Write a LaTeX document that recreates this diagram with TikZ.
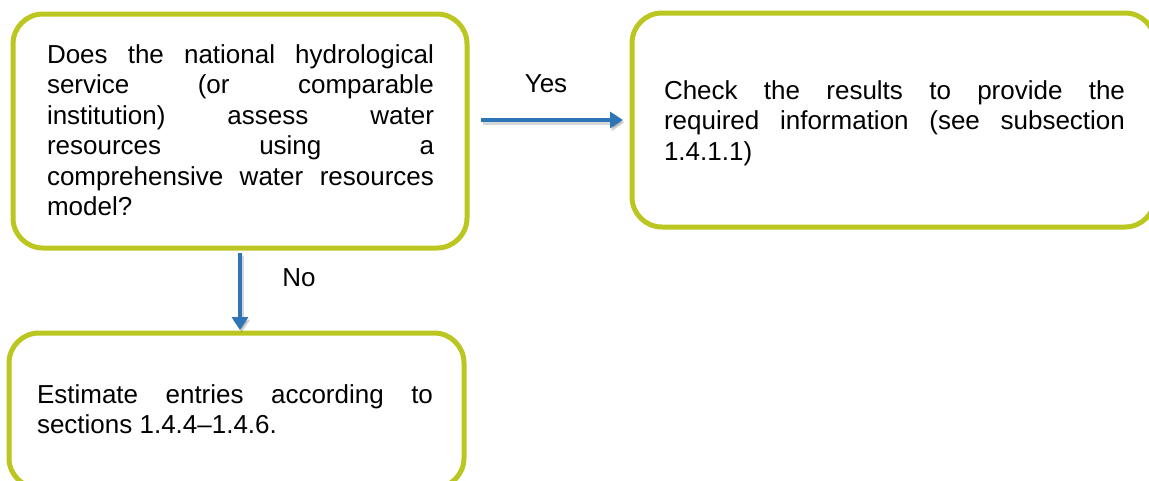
\documentclass[tikz,border=0pt]{standalone}
\usepackage{fontspec}
\setmainfont{Liberation Sans}
\usetikzlibrary{arrows.meta}
\definecolor{boxline}{RGB}{187,199,32}
\definecolor{flowblue}{RGB}{46,117,182}
\hbadness=10000
\begin{document}
\begin{tikzpicture}[x=1pt,y=-1pt,
  qbox/.style={rectangle, draw=boxline, line width=5pt, rounded corners=30pt,
    inner sep=0pt, outer sep=0pt},
  body/.style={anchor=north west, inner sep=0pt, outer sep=0pt, align=justify,
    font=\fontsize{26}{30.5}\selectfont},
  lbl/.style={anchor=base, inner sep=0pt, font=\fontsize{26}{30.5}\selectfont},
  flow/.style={draw=flowblue, line width=4pt, -{Triangle[length=13pt,width=16pt]}},
  flowshade/.style={draw=black, opacity=0.16, line width=5pt,
    -{Triangle[length=13pt,width=17pt]}, transform canvas={shift={(1.5pt,-2.5pt)}}}]
\useasboundingbox (0,0) rectangle (1149,480);
\clip (0,0) rectangle (1149,480);

% decision and outcome boxes
\node[qbox, minimum width=454pt, minimum height=234pt] (q1) at (240,131) {};
\node[qbox, minimum width=523pt, minimum height=214pt] (q2) at (893.5,120) {};
\node[qbox, minimum width=455pt, minimum height=155pt] (q3) at (236.5,410.5) {};

% box texts
\node[body, text width=387pt] (q1text) at (47,43) {\rule{0pt}{20pt}Does the national hydrological\linebreak
  service (or comparable\linebreak institution) assess water\linebreak resources using a\linebreak
  comprehensive water resources\linebreak model?};
\node[body, text width=461pt] (q2text) at (664,79) {\rule{0pt}{20pt}Check the results to provide the\linebreak
  required information (see subsection\linebreak 1.4.1.1)};
\node[body, text width=396pt] (q3text) at (37,383) {\rule{0pt}{20pt}Estimate entries according to\linebreak
  sections 1.4.4–1.4.6.};

% connectors
\draw[flowshade, shorten <=14pt, shorten >=9pt] (q1.east |- q2.west) -- (q2.west);
\draw[flowshade, shorten <=5pt, shorten >=3pt] (q1.south) -- (q1.south |- q3.north);
\draw[flow, shorten <=14pt, shorten >=9pt] (q1.east |- q2.west) -- (q2.west);
\draw[flow, shorten <=5pt, shorten >=3pt] (q1.south) -- (q1.south |- q3.north);

% answer labels
\node[lbl] (yes) at (546,92) {Yes};
\node[lbl] (no) at (299,286) {No};
\end{tikzpicture}
\end{document}
